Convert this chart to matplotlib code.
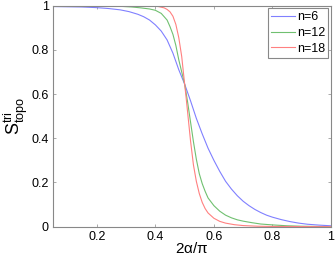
import matplotlib
matplotlib.use("Agg")
import matplotlib.pyplot as plt

plt.rcParams['font.family'] = ['Liberation Sans', 'DejaVu Sans']
plt.rcParams['mathtext.fontset'] = 'custom'
plt.rcParams['mathtext.rm'] = 'Liberation Sans'
plt.rcParams['mathtext.it'] = 'Liberation Sans'

x_n6 = [0.05, 0.10, 0.15, 0.20, 0.24, 0.28, 0.31, 0.34, 0.36, 0.38, 0.40, 0.42, 0.44, 0.46,
        0.48, 0.50, 0.52, 0.54, 0.56, 0.58, 0.60, 0.62, 0.64, 0.66, 0.68, 0.70, 0.72, 0.74,
        0.76, 0.78, 0.80, 0.83, 0.86, 0.89, 0.92, 0.96, 1.0]
y_n6 = [0.996, 0.995, 0.994, 0.991, 0.987, 0.981, 0.973, 0.961, 0.950, 0.935, 0.913, 0.885,
        0.845, 0.785, 0.71, 0.645, 0.57, 0.49, 0.42, 0.355, 0.30, 0.25, 0.205, 0.17, 0.14,
        0.115, 0.095, 0.078, 0.064, 0.052, 0.043, 0.032, 0.023, 0.016, 0.011, 0.007, 0.004]

x_n12 = [0.05, 0.20, 0.28, 0.32, 0.35, 0.38, 0.40, 0.42, 0.44, 0.45, 0.46, 0.47, 0.48, 0.49,
         0.50, 0.51, 0.52, 0.53, 0.54, 0.55, 0.56, 0.57, 0.58, 0.60, 0.62, 0.64, 0.66, 0.68,
         0.70, 0.73, 0.76, 0.80, 0.85, 0.90, 1.0]
y_n12 = [1.0, 0.999, 0.997, 0.994, 0.99, 0.985, 0.979, 0.965, 0.935, 0.905, 0.87, 0.82,
         0.755, 0.70, 0.645, 0.565, 0.475, 0.385, 0.305, 0.24, 0.195, 0.16, 0.13, 0.095,
         0.07, 0.052, 0.04, 0.031, 0.025, 0.018, 0.012, 0.008, 0.004, 0.002, 0.0]

x_n18 = [0.05, 0.38, 0.41, 0.43, 0.44, 0.45, 0.46, 0.47, 0.48, 0.49, 0.50, 0.505, 0.51,
         0.515, 0.52, 0.53, 0.54, 0.55, 0.56, 0.57, 0.58, 0.60, 0.62, 0.64, 0.67, 0.70,
         0.75, 0.80, 1.0]
y_n18 = [1.0, 0.999, 0.996, 0.99, 0.983, 0.972, 0.952, 0.915, 0.855, 0.77, 0.645, 0.585,
         0.52, 0.455, 0.39, 0.28, 0.205, 0.15, 0.11, 0.082, 0.062, 0.038, 0.024, 0.016,
         0.009, 0.005, 0.002, 0.001, 0.0]

labels = ['n=6', 'n=12', 'n=18']
colors = ['#8080ff', '#70c070', '#ff8080']

x_ticks = [0.2, 0.4, 0.6, 0.8, 1]
y_ticks = [0, 0.2, 0.4, 0.6, 0.8, 1]

fig = plt.figure(figsize=(3.35, 2.57), dpi=100)
ax = fig.add_axes([0.158, 0.118, 0.83, 0.86])

for xs, ys, lab, c in zip([x_n6, x_n12, x_n18], [y_n6, y_n12, y_n18], labels, colors):
    ax.plot(xs, ys, color=c, lw=0.8, label=lab)

ax.set_xlim(0.05, 1)
ax.set_ylim(0, 1)
ax.set_xticks(x_ticks)
ax.set_xticklabels(['0.2', '0.4', '0.6', '0.8', '1'])
ax.set_yticks(y_ticks)
ax.set_yticklabels(['0', '0.2', '0.4', '0.6', '0.8', '1'])
ax.tick_params(direction='in', length=2, width=0.5, color='#888888',
               labelsize=9, top=True, right=True, pad=3)
for s in ax.spines.values():
    s.set_color('#888888')
    s.set_linewidth(0.8)

ax.set_xlabel(r'2$\alpha$/$\pi$', fontsize=11, labelpad=-1)
ax.set_ylabel(r'$\mathrm{S}^{\mathrm{tri}}_{\mathrm{topo}}$', fontsize=13, labelpad=1)

leg = ax.legend(loc='upper right', fontsize=9, handlelength=1.9, handletextpad=0.15,
                borderpad=0.25, labelspacing=0.3, borderaxespad=0.2, fancybox=False,
                framealpha=1)
leg.get_frame().set_edgecolor('#888888')
leg.get_frame().set_linewidth(0.8)

fig.savefig('out.png', dpi=100)
